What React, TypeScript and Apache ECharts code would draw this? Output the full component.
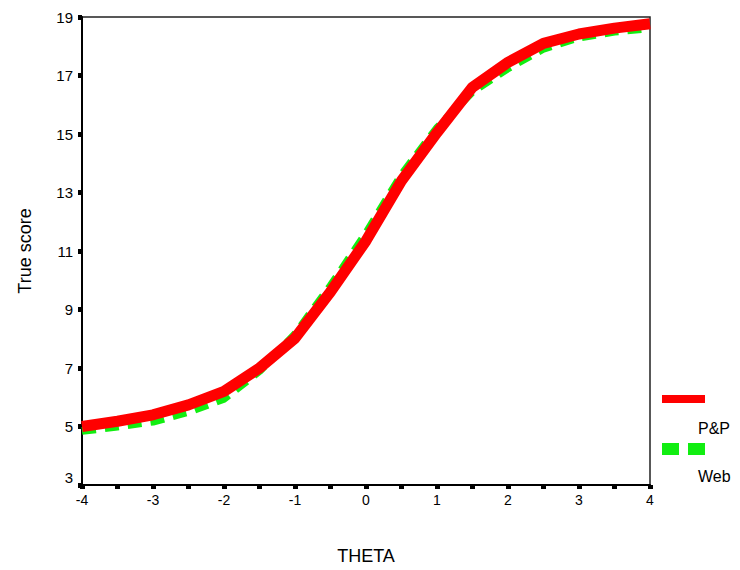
import React, { useEffect, useRef } from "react";
import * as echarts from "echarts";

const theta = [-4, -3.5, -3, -2.5, -2, -1.5, -1, -0.5, 0, 0.5, 1, 1.5, 2, 2.5, 3, 3.5, 4];
const ppScores = [5.0, 5.18, 5.4, 5.74, 6.2, 7.0, 8.02, 9.6, 11.35, 13.4, 15.05, 16.6, 17.45, 18.1, 18.42, 18.62, 18.77];
const webScores = [4.85, 5.0, 5.17, 5.5, 5.95, 6.9, 8.15, 9.8, 11.6, 13.6, 15.2, 16.45, 17.25, 17.92, 18.3, 18.5, 18.62];
const seriesNames = ["P&P", "Web"];
const xAxisTitle = "THETA";
const yAxisTitle = "True score";

const FONT = "'Liberation Sans', Arial, sans-serif";
const RED = "#ff0000";
const GREEN = "#11ee11";

export default function App() {
  const ref = useRef<HTMLDivElement>(null);
  useEffect(() => {
    if (!ref.current) return;
    const chart = echarts.init(ref.current, undefined, { renderer: "svg" });
    chart.setOption({
      animation: false,
      backgroundColor: "#ffffff",
      grid: {
        left: 82,
        right: 90,
        top: 17,
        bottom: 83,
        show: true,
        borderColor: "#222222",
        borderWidth: 1.5,
        backgroundColor: "transparent",
      },
      xAxis: {
        type: "value",
        min: -4,
        max: 4,
        interval: 0.5,
        name: xAxisTitle,
        nameLocation: "middle",
        nameGap: 62,
        nameTextStyle: { fontFamily: FONT, fontSize: 18, color: "#000" },
        axisLine: { onZero: false, lineStyle: { color: "#000", width: 2 } },
        axisTick: { show: true, length: 4, lineStyle: { color: "#000", width: 5 } },
        splitLine: { show: false },
        axisLabel: {
          fontFamily: FONT,
          fontSize: 14,
          color: "#000",
          margin: 8,
          formatter: (v: number) => (Number.isInteger(v) ? String(v) : ""),
        },
      },
      yAxis: {
        type: "value",
        min: 3,
        max: 19,
        interval: 2,
        name: yAxisTitle,
        nameLocation: "middle",
        nameGap: 48,
        nameTextStyle: { fontFamily: FONT, fontSize: 18, color: "#000" },
        axisLine: { onZero: false, lineStyle: { color: "#000", width: 2 } },
        axisTick: { show: true, length: 4, lineStyle: { color: "#000", width: 5 } },
        splitLine: { show: false },
        axisLabel: {
          fontFamily: FONT,
          fontSize: 15,
          color: "#000",
          margin: 9,
          formatter: (v: number) => (v === 3 ? "{low|3}" : String(v)),
          rich: { low: { fontFamily: FONT, fontSize: 15, color: "#000", padding: [0, 0, 16, 0] } },
        },
      },
      series: [
        {
          name: seriesNames[1],
          type: "line",
          data: theta.map((t, i) => [t, webScores[i]]),
          showSymbol: false,
          symbol: "none",
          lineStyle: { color: GREEN, width: 8, type: [14, 9] },
          z: 2,
        },
        {
          name: seriesNames[0],
          type: "line",
          data: theta.map((t, i) => [t, ppScores[i]]),
          showSymbol: false,
          symbol: "none",
          lineStyle: { color: RED, width: 11 },
          z: 3,
        },
      ],
      graphic: [
        { type: "line", shape: { x1: 662, y1: 399, x2: 705, y2: 399 }, style: { stroke: RED, lineWidth: 8 } },
        { type: "text", left: 698, top: 420, style: { text: seriesNames[0], font: `16px ${FONT}`, fill: "#000" } },
        { type: "line", shape: { x1: 662, y1: 449, x2: 705, y2: 449 }, style: { stroke: GREEN, lineWidth: 12, lineDash: [17, 9] } },
        { type: "text", left: 698, top: 468, style: { text: seriesNames[1], font: `16px ${FONT}`, fill: "#000" } },
      ],
    });
    return () => chart.dispose();
  }, []);
  return <div ref={ref} style={{ width: 740, height: 570, margin: -8 }} />;
}
